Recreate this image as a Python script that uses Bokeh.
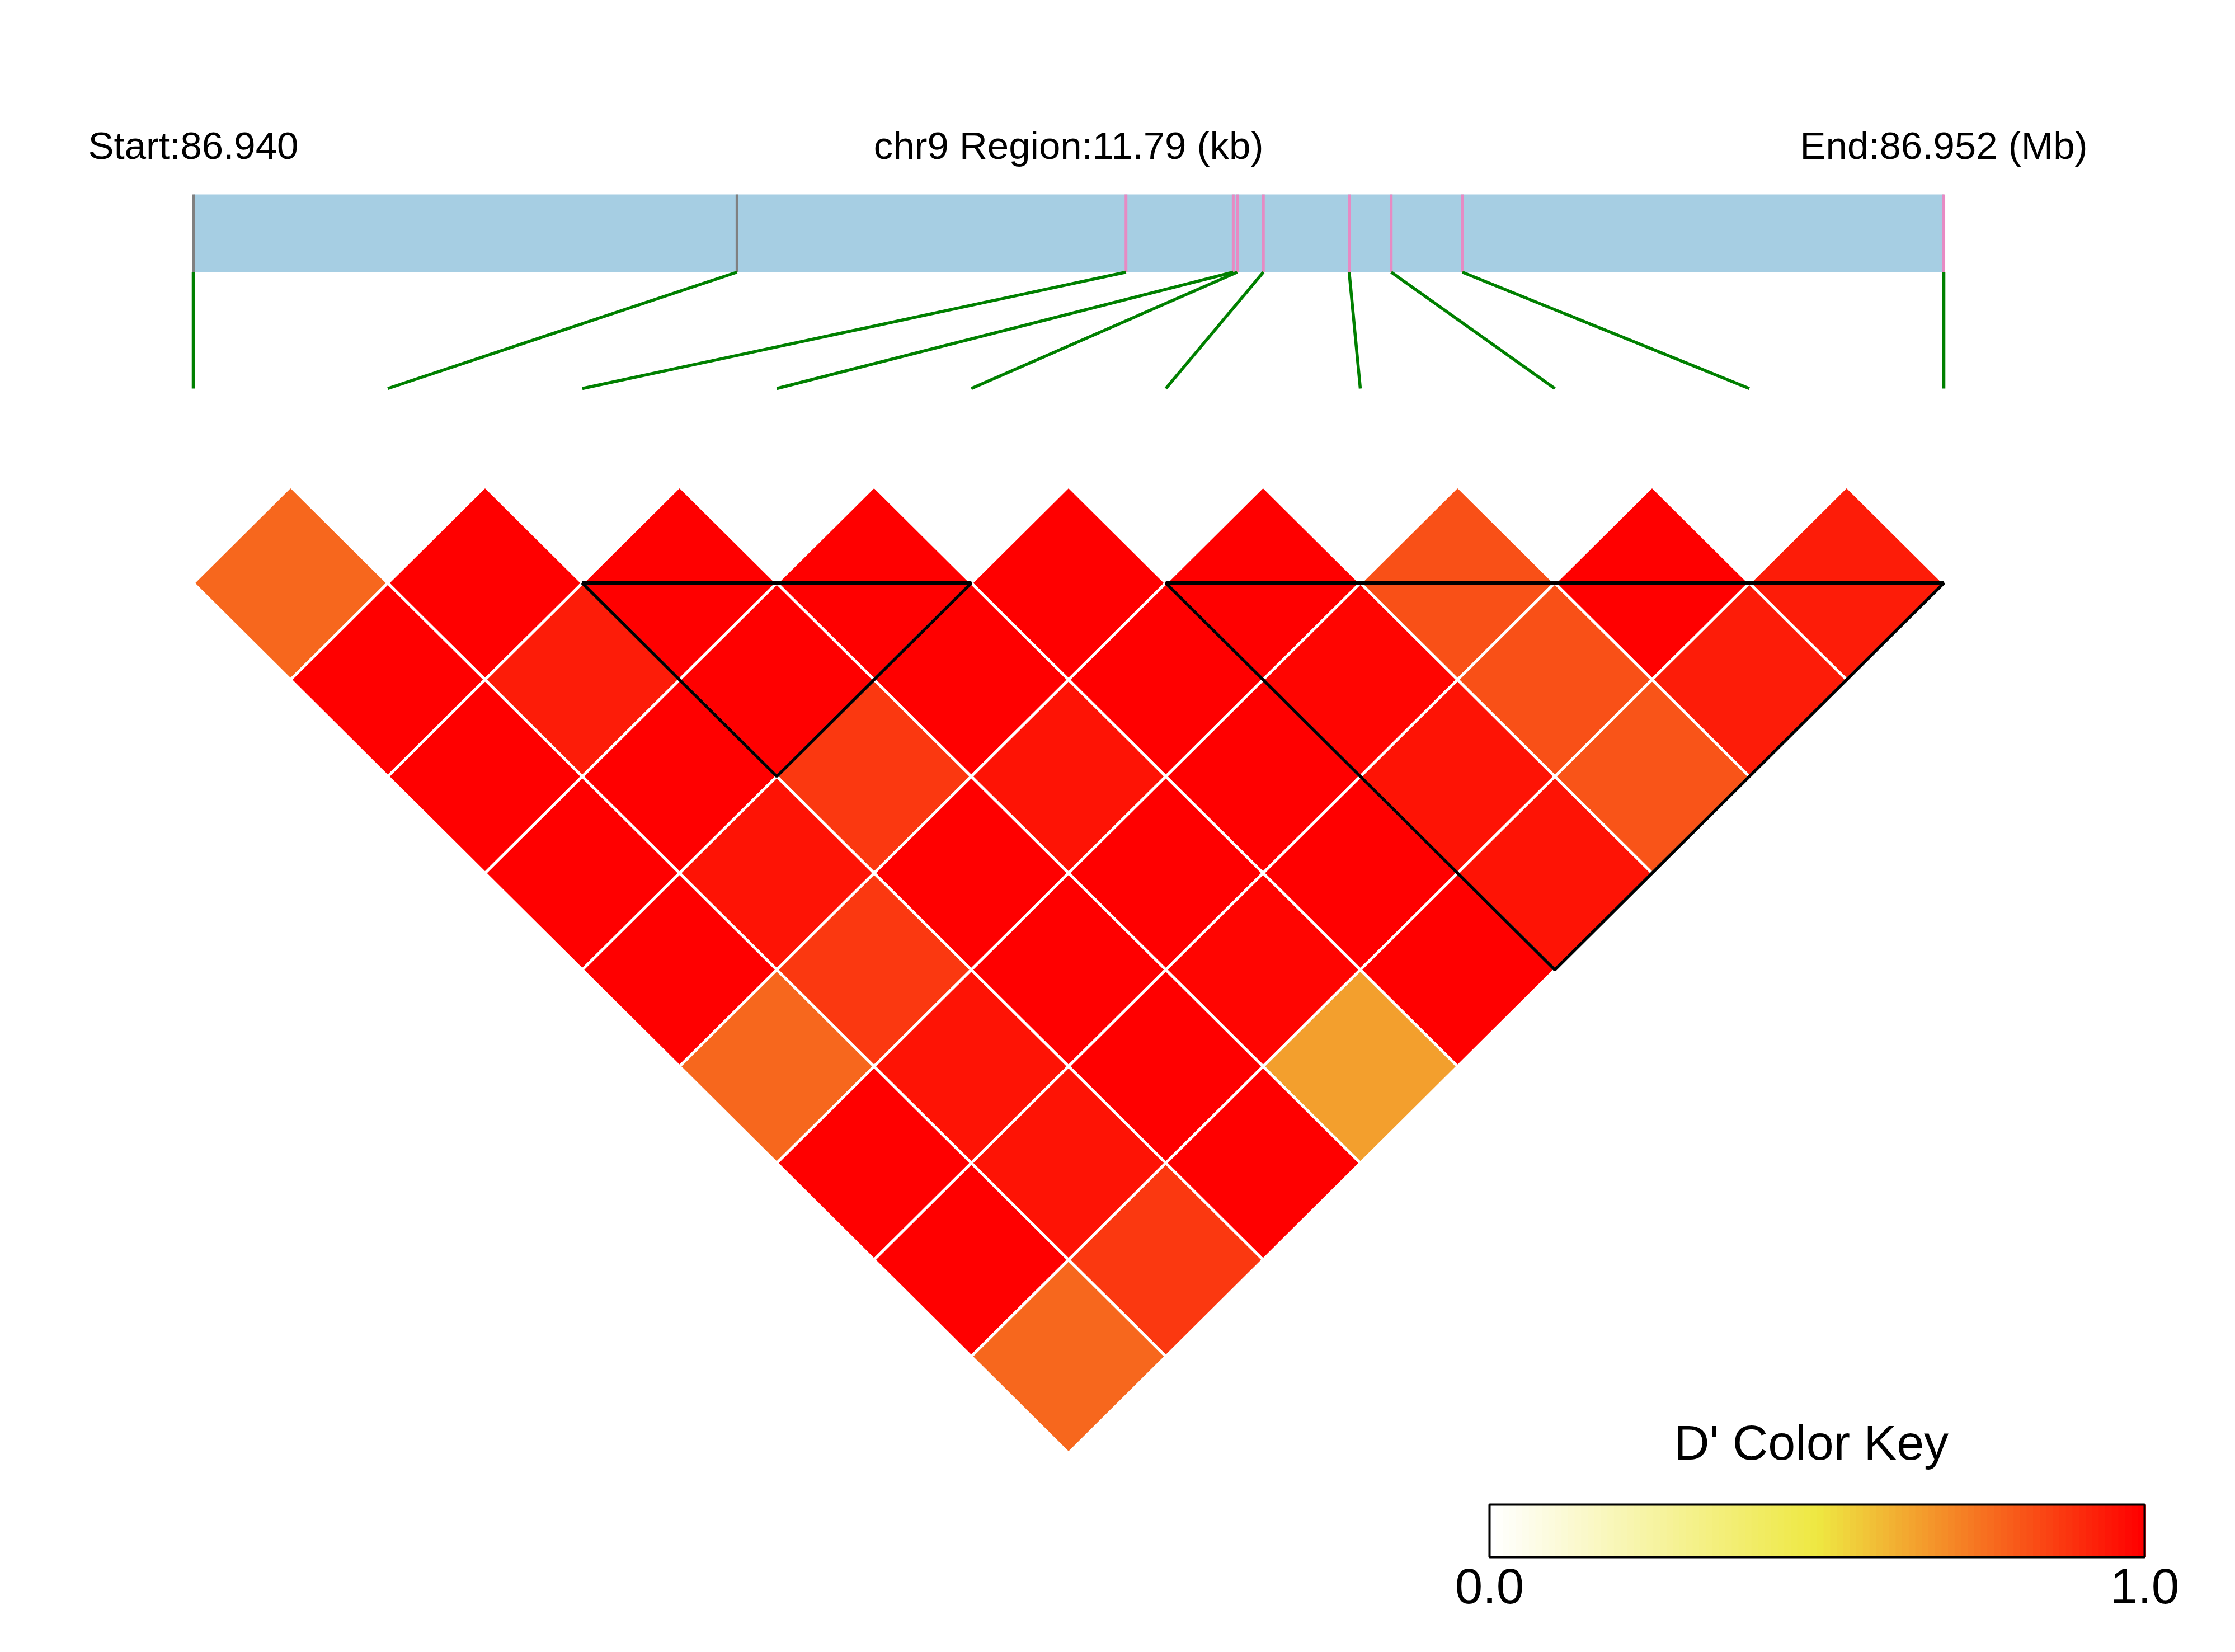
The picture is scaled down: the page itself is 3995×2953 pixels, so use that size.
import numpy as np
from bokeh.plotting import figure
from bokeh.models import Range1d, ColumnDataSource
from bokeh.transform import linear_cmap
from bokeh.core.properties import value
from bokeh.embed import file_html
from bokeh.resources import INLINE

# ---------------- data ----------------
chrom = "chr9"
snp_pos = [86940126, 86943788, 86946408, 86947130, 86947157,
           86947333, 86947911, 86948194, 86948673, 86951916]
# D' values, row k holds pairs (i, i+k)
dprime_rows = [
    [0.77, 1.00, 1.00, 1.00, 1.00, 1.00, 0.82, 1.00, 0.94],
    [1.00, 0.94, 1.00, 1.00, 1.00, 0.98, 0.82, 0.94],
    [1.00, 1.00, 0.87, 0.95, 1.00, 0.95, 0.81],
    [1.00, 0.95, 1.00, 1.00, 1.00, 0.95],
    [1.00, 0.87, 1.00, 0.98, 1.00],
    [0.77, 0.95, 1.00, 0.655],
    [1.00, 0.95, 1.00],
    [1.00, 0.87],
    [0.77],
]
ld_blocks = [(2, 4), (5, 9)]
key_ticks = [0.0, 1.0]
key_title = "D' Color Key"

# ---------------- layout (screen pixels) ----------------
ORIGIN = 0
W, H = 3979, 2937
SNP0_PX, SNP_STEP_PX = 345.0, 347.67
DIAG_PY, ROW_PX = 869.0, 172.8
BAR_TOP_PY, BAR_BOT_PY = 347.0, 486.0
LINK_BOT_PY = 694.0
TEXT_BASE_PY = 260.0
KEY_L_PX, KEY_R_PX, KEY_T_PY, KEY_B_PY = 2662.0, 3833.0, 2689.0, 2783.0
KEY_TITLE_PX = 3237.0
KEY_TITLE_PY, KEY_LABEL_PY = 2578.0, 2834.0
FONT = value("Liberation Sans")


def px2x(px):
    return (px - SNP0_PX) / SNP_STEP_PX


def py2y(py):
    return (DIAG_PY - py) / ROW_PX


# colour palette: white -> yellow -> red
anchors = [(0.0, (255, 255, 255)), (0.5, (238, 232, 66)), (1.0, (255, 0, 0))]
NPAL = 100
palette = []
for t in np.linspace(0, 1, NPAL):
    for (t0, c0), (t1, c1) in zip(anchors[:-1], anchors[1:]):
        if t0 <= t <= t1:
            f = (t - t0) / (t1 - t0)
            rgb = [int(round(a + (b - a) * f)) for a, b in zip(c0, c1)]
            break
    palette.append("#%02x%02x%02x" % tuple(rgb))

n = len(snp_pos)
p = figure(width=W, height=H, output_backend="svg", toolbar_location=None,
           x_range=Range1d(px2x(ORIGIN), px2x(ORIGIN + W)),
           y_range=Range1d(py2y(ORIGIN + H), py2y(ORIGIN)),
           min_border=0, outline_line_color=None)
p.axis.visible = False
p.grid.visible = False
p.background_fill_color = "white"
p.border_fill_color = "white"

# ---------------- chromosome bar ----------------
pos0, posN = snp_pos[0], snp_pos[-1]
xb = [(s - pos0) / (posN - pos0) * (n - 1) for s in snp_pos]
p.quad(left=xb[0], right=xb[-1], top=py2y(BAR_TOP_PY), bottom=py2y(BAR_BOT_PY),
       fill_color="#a6cee3", line_color=None)
in_block = [any(a <= i <= b for a, b in ld_blocks) for i in range(n)]
mark_col = ["#e78ac3" if ib else "#808080" for ib in in_block]
p.segment(x0=xb, x1=xb, y0=[py2y(BAR_TOP_PY)] * n, y1=[py2y(BAR_BOT_PY)] * n,
          line_color=mark_col, line_width=5)
# links
p.segment(x0=xb, y0=[py2y(BAR_BOT_PY)] * n, x1=list(range(n)), y1=[py2y(LINK_BOT_PY)] * n,
          line_color="#008000", line_width=5.5)

# texts
ty = py2y(TEXT_BASE_PY)
p.text(x=[xb[0], (xb[0] + xb[-1]) / 2, xb[-1]], y=[ty] * 3,
       text=["Start:%.3f" % (pos0 / 1e6),
             "%s Region:%.2f (kb)" % (chrom, (posN - pos0) / 1000),
             "End:%.3f (Mb)" % (posN / 1e6)],
       text_font=FONT, text_font_size="69px", text_align="center",
       text_baseline="alphabetic", text_color="black")

# ---------------- LD diamonds ----------------
xs, ys, vals = [], [], []
for k, row in enumerate(dprime_rows, start=1):
    for i, d in enumerate(row):
        j = i + k
        cx, cy = (i + j) / 2, -k
        xs.append([cx - 0.5, cx, cx + 0.5, cx])
        ys.append([cy, cy + 1, cy, cy - 1])
        vals.append(d)
src = ColumnDataSource(dict(xs=xs, ys=ys, d=vals))
p.patches("xs", "ys", source=src,
          fill_color=linear_cmap("d", palette, 0, 1),
          line_color="white", line_width=5)

# LD blocks
bxs, bys = [], []
for a, b in ld_blocks:
    bxs.append([a, b, (a + b) / 2])
    bys.append([-1, -1, -(b - a + 1)])
p.patches(bxs, bys, fill_color=None, line_color="black", line_width=5.5)
p.segment(x0=[a for a, b in ld_blocks], x1=[b for a, b in ld_blocks],
          y0=[-1] * len(ld_blocks), y1=[-1] * len(ld_blocks),
          line_color="black", line_width=7)

# ---------------- colour key ----------------
kl, kr = px2x(KEY_L_PX), px2x(KEY_R_PX)
kt, kb = py2y(KEY_T_PY), py2y(KEY_B_PY)
edges = np.linspace(kl, kr, NPAL + 1)
p.quad(left=edges[:-1], right=edges[1:] + (kr - kl) * 0.002, top=kt, bottom=kb,
       fill_color=palette, line_color=None)
p.quad(left=kl, right=kr, top=kt, bottom=kb, fill_color=None,
       line_color="black", line_width=4)
p.text(x=[px2x(KEY_TITLE_PX)], y=[py2y(KEY_TITLE_PY)], text=[key_title],
       text_font=FONT, text_font_size="88px", text_align="center",
       text_baseline="alphabetic", text_color="black")
p.text(x=[kl + t * (kr - kl) for t in key_ticks], y=[py2y(KEY_LABEL_PY)] * len(key_ticks),
       text=["%.1f" % t for t in key_ticks],
       text_font=FONT, text_font_size="89px", text_align="center",
       text_baseline="alphabetic", text_color="black")

open("out.html", "w").write(file_html(p, INLINE))
